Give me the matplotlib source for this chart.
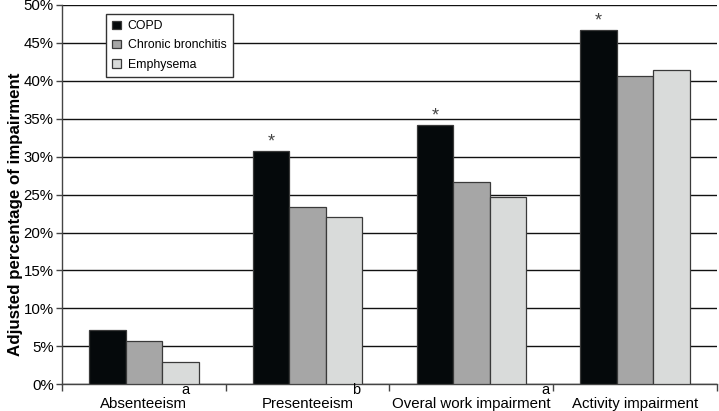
import numpy as np
import matplotlib
matplotlib.use('Agg')
import matplotlib.pyplot as plt
from matplotlib import rcParams
from matplotlib.ticker import FixedLocator, PercentFormatter
from matplotlib.transforms import blended_transform_factory

rcParams.update({
    'font.family': ['Liberation Sans', 'DejaVu Sans'],
    'font.size': 10,
})

categories = ['Absenteeism', 'Presenteeism', 'Overal work impairment', 'Activity impairment']
series = ['COPD', 'Chronic bronchitis', 'Emphysema']
copd = [7.1, 30.8, 34.2, 46.7]
chronic_bronchitis = [5.65, 23.4, 26.7, 40.6]
emphysema = [2.95, 22.1, 24.7, 41.4]
yticks = [0, 5, 10, 15, 20, 25, 30, 35, 40, 45, 50]

# significance marks
star_cats = [1, 2, 3]
letter_marks = [('a', 0.254), ('b', 1.297), ('a', 2.455)]

COLORS = ['#05090b', '#a6a6a6', '#d9dbda']

fig = plt.figure(figsize=(7.19, 4.11), dpi=100)
ax = fig.add_axes([0.0862, 0.065, 0.9108, 0.923])

x = np.arange(len(categories))
w = 0.223
for i, (name, vals) in enumerate(zip(series, [copd, chronic_bronchitis, emphysema])):
    ax.bar(x + (i - 1) * w, vals, width=w, color=COLORS[i], edgecolor='#3a3a3a',
           linewidth=0.9, label=name, zorder=3)

for c in star_cats:
    ax.text(x[c] - w, copd[c] + 1.2, '*', ha='center', va='center',
            fontsize=13, color='#444444', zorder=4)

trans = blended_transform_factory(ax.transData, ax.transAxes)
for letter, xpos in letter_marks:
    ax.text(xpos, -0.016, letter, transform=trans, ha='center', va='center', fontsize=10.5)

ax.set_xlim(-0.5, len(categories) - 0.5)
ax.set_ylim(0, 50)
ax.set_yticks(yticks)
ax.yaxis.set_major_formatter(PercentFormatter(decimals=0))
ax.yaxis.grid(True, color='#111111', linewidth=1.0, zorder=0)
ax.set_axisbelow(True)

# category boundaries as major ticks, labels on minor ticks at centres
ax.xaxis.set_major_locator(FixedLocator(np.arange(-0.5, len(categories), 1.0)))
ax.xaxis.set_minor_locator(FixedLocator(x))
ax.set_xticklabels([''] * (len(categories) + 1))
ax.set_xticklabels(categories, minor=True)
ax.tick_params(axis='x', which='major', length=5, width=1, color='#444444', direction='out')
ax.tick_params(axis='x', which='minor', length=0, pad=9, labelsize=10.8)
ax.tick_params(axis='y', length=4, width=1, color='#444444', labelsize=10.8, pad=2)

for s in ['top', 'right']:
    ax.spines[s].set_visible(False)
for s in ['left', 'bottom']:
    ax.spines[s].set_color('#444444')
    ax.spines[s].set_linewidth(1.0)

ax.set_ylabel('Adjusted percentage of impairment', fontsize=12.2, fontweight='bold')
ax.yaxis.set_label_coords(-0.059, 0.449)

leg = ax.legend(loc='upper left', bbox_to_anchor=(0.067, 0.976), borderaxespad=0,
                frameon=True, fancybox=False, edgecolor='#333333', framealpha=1,
                fontsize=8.8, handlelength=0.7, handleheight=0.7, handletextpad=0.6,
                labelspacing=0.6, borderpad=0.5)
leg.get_frame().set_linewidth(1.0)

fig.savefig('out.png', dpi=100)
